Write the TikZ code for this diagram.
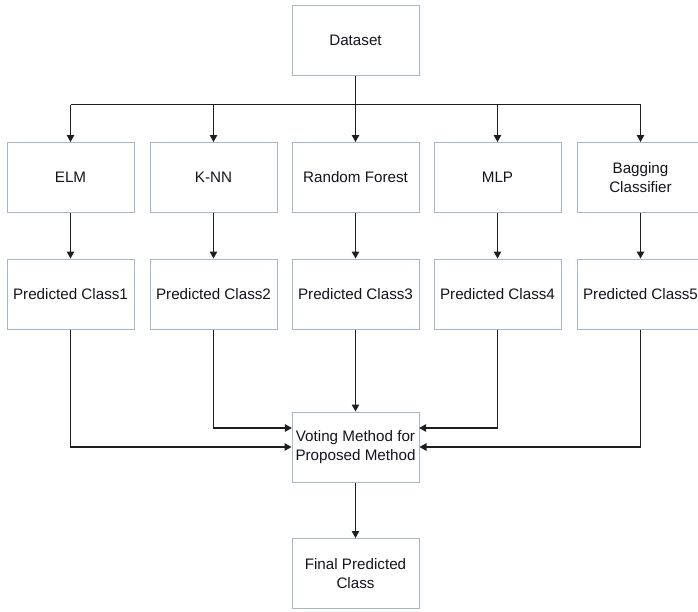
\documentclass[tikz,border=0pt]{standalone}
\usepackage{fontspec}
\setmainfont{Liberation Sans}
\usetikzlibrary{arrows.meta}
\definecolor{boxc}{RGB}{168,182,200}
\definecolor{linec}{RGB}{30,30,30}
\definecolor{txt}{RGB}{20,20,30}
\begin{document}
\begin{tikzpicture}[x=1pt,y=-1pt,
 box/.style={draw=boxc, line width=1pt, minimum width=127pt, minimum height=70pt, align=center, font=\fontsize{15.2}{18.5}\selectfont, inner sep=0pt, text=txt},
 link/.style={draw=linec, line width=1.1pt},
 conn/.style={link, -{Triangle[length=7pt,width=7.5pt]}}]
\clip (0,0) rectangle (698,611);
\fill[white] (0,0) rectangle (698,611);
% nodes
\node[box] (ds) at (355.5,40.5) {Dataset};
\node[box] (elm) at (70.5,177.5) {ELM};
\node[box] (knn) at (213.5,177.5) {K-NN};
\node[box] (rf) at (355.5,177.5) {Random Forest};
\node[box] (mlp) at (497.5,177.5) {MLP};
\node[box] (bag) at (640.5,177.5) {Bagging\\Classifier};
\node[box] (p1) at (70.5,294) {Predicted Class1};
\node[box] (p2) at (213.5,294) {Predicted Class2};
\node[box] (p3) at (355.5,294) {Predicted Class3};
\node[box] (p4) at (497.5,294) {Predicted Class4};
\node[box] (p5) at (640.5,294) {Predicted Class5};
\node[box] (vote) at (355.5,447) {Voting Method for\\Proposed Method};
\node[box] (fin) at (355.5,573.5) {Final Predicted\\Class};
% split bus
\coordinate (b1) at (70.5,104.7);
\coordinate (b2) at (213.5,104.7);
\coordinate (b4) at (497.5,104.7);
\coordinate (b5) at (640.5,104.7);
\draw[link] (b1) -- (b5);
\draw[conn] (ds.south) -- (rf.north);
\draw[conn] (b1) -- (elm.north);
\draw[conn] (b2) -- (knn.north);
\draw[conn] (b4) -- (mlp.north);
\draw[conn] (b5) -- (bag.north);
% to predictions
\draw[conn] (elm) -- (p1);
\draw[conn] (knn) -- (p2);
\draw[conn] (rf) -- (p3);
\draw[conn] (mlp) -- (p4);
\draw[conn] (bag) -- (p5);
% to voting
\coordinate (vwu) at (291.9,428);
\coordinate (veu) at (419.1,428);
\draw[conn] (p1.south) |- (vote.west);
\draw[conn] (p2.south) |- (vwu);
\draw[conn] (p3) -- (vote);
\draw[conn] (p4.south) |- (veu);
\draw[conn] (p5.south) |- (vote.east);
\draw[conn] (vote) -- (fin);
\end{tikzpicture}
\end{document}
